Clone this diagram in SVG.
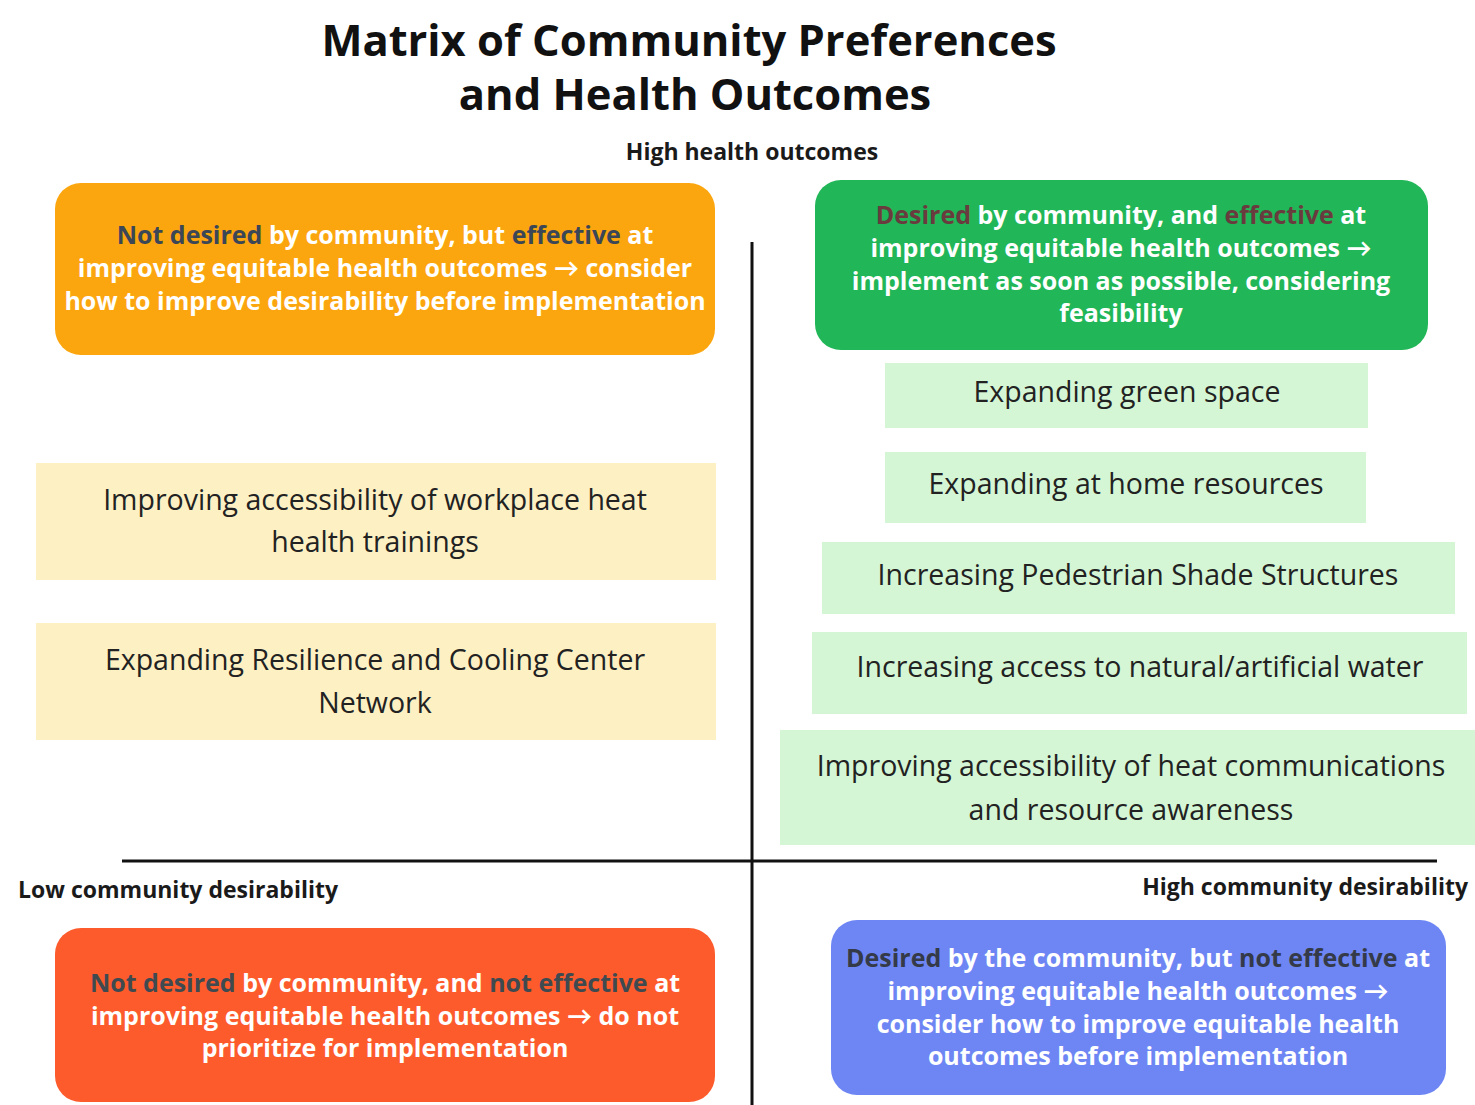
<svg xmlns="http://www.w3.org/2000/svg" width="1475" height="1105" viewBox="0 0 1475 1105">
<style>
text{font-family:"Open Sans","Noto Sans",sans-serif;text-anchor:middle}
.title{font-size:43.5px;font-weight:700;fill:#111}
.axis{font-size:23px;font-weight:700;fill:#1a1a1a}
.hdr{font-size:25px;font-weight:700;fill:#ffffff}
.item{font-size:28.5px;font-weight:400;fill:#222}
.ar{font-family:Lato,"DejaVu Sans",sans-serif}
.d1{fill:#3b4656}.d2{fill:#6a3b3e}.d3{fill:#3f4a50}.d4{fill:#343a48}
.green{fill:#d5f6d5}.yellow{fill:#fdf1c4}
</style>
<rect width="1475" height="1105" fill="#ffffff"/>
<g id="title">
<text class="title" x="689" y="56">Matrix of Community Preferences</text>
<text class="title" x="695" y="110">and Health Outcomes</text>
</g>
<g id="axes">
<line x1="752" y1="242" x2="752" y2="1105" stroke="#111" stroke-width="3"/>
<line x1="122" y1="861" x2="1437" y2="861" stroke="#111" stroke-width="3"/>
<text class="axis" x="752" y="160">High health outcomes</text>
<text class="axis" x="18" y="898" style="text-anchor:start">Low community desirability</text>
<text class="axis" x="1468" y="895" style="text-anchor:end">High community desirability</text>
</g>
<g id="q-orange">
<rect x="55" y="183" width="660" height="172" rx="26" fill="#fca60f"/>
<text class="hdr" x="385" y="244"><tspan class="d1">Not desired</tspan> by community, but <tspan class="d1">effective</tspan> at</text>
<text class="hdr" x="385" y="277">improving equitable health outcomes <tspan class="ar">→</tspan> consider</text>
<text class="hdr" x="385" y="310">how to improve desirability before implementation</text>
</g>
<g id="q-green">
<rect x="815" y="180" width="613" height="170" rx="26" fill="#21b657"/>
<text class="hdr" x="1121" y="224"><tspan class="d2">Desired</tspan> by community, and <tspan class="d2">effective</tspan> at</text>
<text class="hdr" x="1121" y="257">improving equitable health outcomes <tspan class="ar">→</tspan></text>
<text class="hdr" x="1121" y="290">implement as soon as possible, considering</text>
<text class="hdr" x="1121" y="322">feasibility</text>
</g>
<g id="g1"><rect class="green" x="885" y="363" width="483" height="65"/><text class="item" x="1127" y="402">Expanding green space</text></g>
<g id="g2"><rect class="green" x="885" y="452" width="481" height="71"/><text class="item" x="1126" y="494">Expanding at home resources</text></g>
<g id="g3"><rect class="green" x="822" y="542" width="633" height="72"/><text class="item" x="1138" y="585">Increasing Pedestrian Shade Structures</text></g>
<g id="g4"><rect class="green" x="812" y="632" width="655" height="82"/><text class="item" x="1140" y="677">Increasing access to natural/artificial water</text></g>
<g id="g5"><rect class="green" x="780" y="730" width="695" height="115"/><text class="item" x="1131" y="776">Improving accessibility of heat communications</text><text class="item" x="1131" y="820">and resource awareness</text></g>
<g id="y1"><rect class="yellow" x="36" y="463" width="680" height="117"/><text class="item" x="375" y="510">Improving accessibility of workplace heat</text><text class="item" x="375" y="552">health trainings</text></g>
<g id="y2"><rect class="yellow" x="36" y="623" width="680" height="117"/><text class="item" x="375" y="670">Expanding Resilience and Cooling Center</text><text class="item" x="375" y="713">Network</text></g>
<g id="q-red">
<rect x="55" y="928" width="660" height="174" rx="26" fill="#fd5b2c"/>
<text class="hdr" x="385" y="992"><tspan class="d3">Not desired</tspan> by community, and <tspan class="d3">not effective</tspan> at</text>
<text class="hdr" x="385" y="1025">improving equitable health outcomes <tspan class="ar">→</tspan> do not</text>
<text class="hdr" x="385" y="1057">prioritize for implementation</text>
</g>
<g id="q-blue">
<rect x="831" y="920" width="615" height="175" rx="26" fill="#6e86f4"/>
<text class="hdr" x="1138" y="967"><tspan class="d4">Desired</tspan> by the community, but <tspan class="d4">not effective</tspan> at</text>
<text class="hdr" x="1138" y="1000">improving equitable health outcomes <tspan class="ar">→</tspan></text>
<text class="hdr" x="1138" y="1033">consider how to improve equitable health</text>
<text class="hdr" x="1138" y="1065">outcomes before implementation</text>
</g>
</svg>
